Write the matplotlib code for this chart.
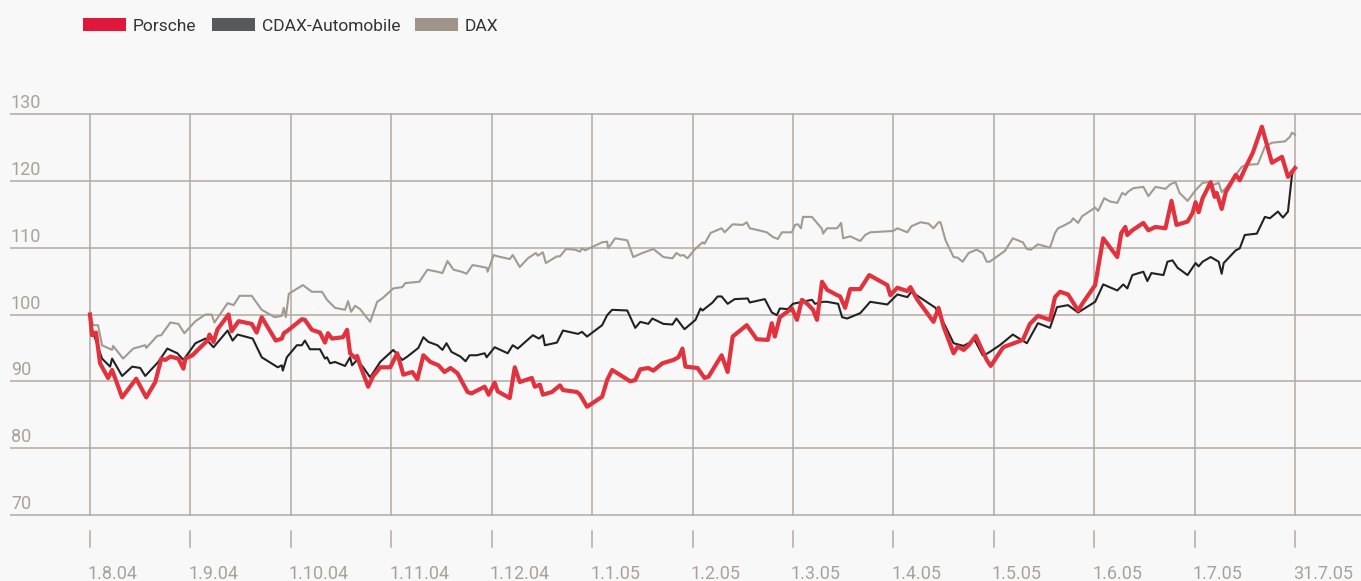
import matplotlib
matplotlib.use("Agg")
import matplotlib.pyplot as plt
from matplotlib.patches import Rectangle

# x = months since 1.8.04, y = index (1.8.04 = 100)
porsche_x = [0.00, 0.02, 0.06, 0.10, 0.18, 0.22, 0.32, 0.46, 0.56, 0.65, 0.71, 0.75, 0.80, 0.88, 0.93, 0.95,
             1.02, 1.10, 1.17, 1.19, 1.23, 1.27, 1.38, 1.41, 1.48, 1.61, 1.66, 1.71, 1.85, 1.91, 1.93, 1.97,
             2.11, 2.14, 2.21, 2.29, 2.34, 2.37, 2.41, 2.52, 2.56, 2.59, 2.64, 2.66, 2.69, 2.72, 2.77, 2.82,
             2.87, 2.89, 2.99, 3.06, 3.12, 3.21, 3.26, 3.32, 3.39, 3.47, 3.53, 3.59, 3.66, 3.76, 3.80, 3.93,
             3.97, 4.03, 4.06, 4.18, 4.23, 4.28, 4.40, 4.43, 4.48, 4.51, 4.60, 4.68, 4.71, 4.85, 4.88, 4.95,
             5.10, 5.15, 5.20, 5.38, 5.43, 5.48, 5.56, 5.61, 5.70, 5.81, 5.86, 5.90, 5.93, 6.05, 6.12, 6.16,
             6.29, 6.35, 6.40, 6.54, 6.64, 6.75, 6.79, 6.82, 6.87, 6.99, 7.04, 7.09, 7.15, 7.20, 7.24, 7.29,
             7.34, 7.44, 7.47, 7.52, 7.57, 7.67, 7.76, 7.94, 7.97, 8.04, 8.14, 8.17, 8.24, 8.40, 8.45, 8.50,
             8.60, 8.64, 8.70, 8.75, 8.82, 8.93, 8.97, 9.09, 9.11, 9.29, 9.36, 9.44, 9.56, 9.61, 9.66, 9.74,
             9.84, 9.89, 10.01, 10.09, 10.23, 10.27, 10.31, 10.33, 10.38, 10.49, 10.54, 10.61, 10.71, 10.77,
             10.82, 10.93, 10.98, 11.01, 11.04, 11.08, 11.16, 11.20, 11.22, 11.27, 11.31, 11.41, 11.45, 11.52,
             11.58, 11.67, 11.77, 11.87, 11.93, 12.00]
porsche_y = [100.0, 96.9, 97.3, 92.7, 90.5, 91.7, 87.6, 90.4, 87.6, 89.9, 93.4, 93.2, 93.7, 93.4, 91.9, 93.4,
             93.9, 95.1, 96.1, 97.0, 95.9, 97.8, 100.0, 97.5, 99.0, 98.6, 97.3, 99.6, 96.1, 96.4, 97.2, 97.6,
             99.3, 99.2, 97.7, 97.3, 95.8, 97.2, 96.4, 96.6, 97.7, 94.2, 93.5, 93.8, 92.4, 91.2, 89.2, 90.8,
             91.7, 92.1, 92.1, 94.2, 91.0, 91.4, 90.3, 93.9, 92.9, 92.4, 91.4, 92.0, 91.2, 88.4, 88.2, 89.2,
             88.0, 89.8, 88.5, 87.5, 92.1, 89.9, 90.5, 89.2, 89.5, 88.0, 88.4, 89.4, 88.7, 88.4, 88.0, 86.2,
             87.7, 90.2, 91.7, 90.0, 90.2, 91.8, 92.0, 91.6, 92.7, 93.2, 93.6, 94.9, 92.2, 92.0, 90.5, 90.7,
             93.9, 91.4, 96.7, 98.4, 96.3, 96.2, 98.7, 96.7, 99.6, 100.9, 99.2, 102.2, 101.5, 100.7, 99.2, 104.9,
             103.7, 102.9, 102.7, 101.0, 103.8, 103.8, 105.9, 104.4, 102.9, 104.0, 103.5, 104.1, 102.2, 98.9, 101.0, 98.2,
             94.2, 95.2, 94.7, 95.4, 96.8, 93.2, 92.3, 95.0, 95.2, 96.2, 98.6, 99.8, 99.2, 102.6, 103.4, 103.0,
             100.6, 101.8, 104.4, 111.4, 108.6, 112.2, 113.1, 111.9, 112.6, 113.7, 112.6, 113.1, 112.9, 117.0,
             113.4, 113.9, 115.2, 116.8, 115.3, 117.4, 119.8, 117.6, 118.2, 115.8, 118.3, 120.9, 120.1, 122.4,
             124.2, 128.1, 122.7, 123.6, 120.6, 121.9]

cdax_x = [0.00, 0.02, 0.12, 0.20, 0.22, 0.32, 0.42, 0.50, 0.55, 0.68, 0.77, 0.87, 0.93, 1.05, 1.15, 1.23,
          1.37, 1.42, 1.47, 1.62, 1.71, 1.87, 1.91, 1.92, 1.96, 2.06, 2.11, 2.14, 2.19, 2.29, 2.34, 2.36,
          2.39, 2.44, 2.54, 2.59, 2.61, 2.66, 2.72, 2.79, 2.89, 3.02, 3.11, 3.16, 3.27, 3.32, 3.37, 3.46,
          3.51, 3.55, 3.60, 3.69, 3.74, 3.78, 3.85, 3.93, 3.95, 4.03, 4.16, 4.21, 4.26, 4.41, 4.47, 4.51,
          4.53, 4.65, 4.71, 4.86, 4.90, 4.95, 5.10, 5.15, 5.20, 5.35, 5.43, 5.48, 5.56, 5.60, 5.71, 5.80,
          5.84, 5.92, 6.03, 6.08, 6.10, 6.20, 6.25, 6.29, 6.35, 6.42, 6.55, 6.57, 6.72, 6.79, 6.84, 6.87,
          6.95, 7.00, 7.19, 7.22, 7.30, 7.34, 7.45, 7.49, 7.54, 7.67, 7.77, 7.94, 8.04, 8.14, 8.18, 8.27,
          8.33, 8.42, 8.52, 8.60, 8.70, 8.81, 8.89, 8.94, 9.06, 9.19, 9.33, 9.44, 9.56, 9.63, 9.74, 9.84,
          10.01, 10.09, 10.23, 10.29, 10.33, 10.38, 10.49, 10.53, 10.57, 10.69, 10.73, 10.78, 10.83, 10.93,
          11.01, 11.04, 11.08, 11.16, 11.24, 11.27, 11.29, 11.41, 11.45, 11.50, 11.62, 11.70, 11.75, 11.83,
          11.88, 11.93, 11.97, 12.00]
cdax_y = [100.0, 97.8, 93.4, 92.2, 93.4, 90.8, 92.2, 92.0, 90.8, 92.9, 94.9, 94.2, 93.2, 95.7, 96.4, 95.1,
          97.6, 96.1, 97.0, 96.4, 93.6, 92.1, 92.4, 91.6, 93.6, 95.4, 95.4, 96.1, 94.8, 94.8, 93.4, 93.6,
          92.7, 92.9, 92.3, 93.6, 92.4, 93.2, 92.1, 90.6, 92.9, 94.7, 93.2, 93.7, 95.0, 96.6, 95.9, 95.4,
          94.7, 95.7, 94.4, 93.7, 93.0, 93.9, 93.9, 94.2, 93.6, 95.1, 94.2, 95.4, 94.9, 96.9, 96.4, 96.9,
          95.4, 95.8, 97.6, 97.1, 97.4, 96.7, 98.4, 99.9, 100.7, 100.6, 98.0, 98.9, 98.6, 99.4, 98.6, 98.5,
          99.4, 97.8, 99.2, 100.9, 100.6, 101.8, 102.7, 102.7, 101.6, 102.3, 102.4, 101.8, 102.3, 100.3, 99.9, 100.9,
          100.8, 101.6, 102.2, 101.6, 101.9, 101.9, 101.6, 99.6, 99.4, 100.2, 101.9, 101.5, 103.0, 102.6, 103.4, 102.5,
          101.9, 101.0, 98.2, 95.7, 95.3, 96.2, 93.9, 94.2, 95.4, 97.0, 95.7, 98.7, 98.0, 101.1, 101.4, 100.3,
          101.9, 104.5, 103.6, 104.5, 103.9, 105.9, 106.4, 105.0, 106.2, 105.9, 107.9, 108.1, 107.0, 105.9,
          107.7, 107.2, 107.9, 108.6, 107.9, 106.1, 107.7, 109.6, 109.9, 111.9, 112.1, 114.6, 114.4, 115.4,
          114.5, 115.4, 120.9, 122.1]

dax_x = [0.00, 0.03, 0.08, 0.12, 0.22, 0.23, 0.33, 0.43, 0.50, 0.55, 0.56, 0.67, 0.71, 0.80, 0.88, 0.94,
         1.05, 1.15, 1.21, 1.24, 1.37, 1.43, 1.49, 1.61, 1.71, 1.84, 1.91, 1.93, 1.95, 1.98, 2.12, 2.21,
         2.31, 2.36, 2.44, 2.54, 2.57, 2.60, 2.64, 2.69, 2.79, 2.86, 2.91, 3.02, 3.11, 3.14, 3.28, 3.36,
         3.46, 3.51, 3.56, 3.62, 3.70, 3.75, 3.81, 3.95, 3.96, 4.02, 4.06, 4.18, 4.21, 4.28, 4.36, 4.44,
         4.46, 4.51, 4.54, 4.65, 4.68, 4.74, 4.83, 4.88, 4.90, 4.93, 5.00, 5.10, 5.15, 5.16, 5.23, 5.35,
         5.41, 5.50, 5.61, 5.71, 5.80, 5.84, 5.88, 5.91, 5.95, 6.02, 6.10, 6.12, 6.18, 6.29, 6.32, 6.40,
         6.50, 6.54, 6.57, 6.66, 6.74, 6.80, 6.85, 6.89, 6.99, 7.02, 7.05, 7.08, 7.10, 7.19, 7.29, 7.30,
         7.34, 7.44, 7.48, 7.50, 7.57, 7.67, 7.72, 7.77, 8.00, 8.04, 8.14, 8.18, 8.27, 8.35, 8.40, 8.45,
         8.47, 8.52, 8.60, 8.64, 8.69, 8.75, 8.83, 8.89, 8.93, 8.96, 9.11, 9.19, 9.29, 9.33, 9.37, 9.44,
         9.56, 9.61, 9.64, 9.71, 9.77, 9.79, 9.84, 9.88, 9.94, 10.01, 10.04, 10.10, 10.16, 10.23, 10.28,
         10.31, 10.34, 10.39, 10.49, 10.54, 10.61, 10.71, 10.76, 10.81, 10.85, 10.93, 11.01, 11.08, 11.14,
         11.19, 11.24, 11.27, 11.31, 11.47, 11.52, 11.63, 11.70, 11.77, 11.90, 11.95, 11.97, 12.00]
dax_y = [100.0, 98.4, 98.4, 95.4, 94.7, 95.3, 93.4, 94.9, 95.2, 95.4, 95.0, 96.8, 96.9, 98.8, 98.6, 97.2,
         99.0, 100.0, 100.0, 98.8, 101.7, 101.4, 102.8, 102.8, 100.7, 99.6, 99.8, 101.0, 99.6, 103.1, 104.4, 103.4,
         103.4, 102.2, 101.0, 100.7, 102.0, 100.4, 101.3, 100.8, 98.9, 101.9, 102.4, 103.9, 104.1, 104.7, 104.9, 106.7,
         106.4, 106.2, 108.0, 106.7, 106.4, 106.1, 107.4, 107.0, 106.4, 108.9, 108.7, 108.3, 108.9, 107.1, 108.4, 109.2,
         108.8, 109.3, 107.7, 108.7, 108.7, 109.8, 109.7, 109.4, 109.9, 109.6, 110.1, 110.8, 110.9, 109.9, 111.4, 111.1,
         108.6, 109.2, 109.8, 108.6, 108.4, 109.2, 108.8, 108.9, 108.4, 109.7, 110.8, 110.6, 112.2, 112.9, 112.3, 113.5,
         113.4, 113.8, 112.9, 112.6, 112.3, 111.6, 111.3, 112.3, 112.3, 113.4, 113.5, 112.9, 114.6, 114.6, 112.8, 112.1,
         112.9, 112.9, 113.7, 111.4, 111.7, 111.0, 111.9, 112.3, 112.5, 112.9, 112.3, 113.2, 113.8, 113.6, 112.9, 113.8,
         113.8, 111.1, 108.6, 108.5, 107.9, 109.2, 109.7, 109.2, 107.9, 107.9, 109.5, 111.4, 110.8, 109.8, 109.7, 110.5,
         110.0, 112.2, 112.9, 113.4, 113.9, 114.4, 113.7, 114.7, 115.3, 116.0, 115.5, 117.4, 116.9, 116.7, 118.2,
         117.9, 118.4, 118.9, 119.1, 117.7, 119.1, 118.8, 119.5, 119.8, 118.2, 117.0, 118.6, 119.7, 119.8,
         119.4, 119.7, 118.3, 118.9, 122.1, 122.4, 122.5, 125.1, 125.7, 125.9, 126.6, 127.2, 126.9]

y_ticks = [70, 80, 90, 100, 110, 120, 130]
month_labels = ["1.8.04", "1.9.04", "1.10.04", "1.11.04", "1.12.04", "1.1.05", "1.2.05",
                "1.3.05", "1.4.05", "1.5.05", "1.6.05", "1.7.05", "31.7.05"]
series_names = ["Porsche", "CDAX-Automobile", "DAX"]

RED = "#e2323e"
DARK = "#222222"
TAUPE = "#a39a90"
GRID = "#b3aba2"
LABEL = "#aaa298"
BG = "#f8f8f8"

plt.rcParams["font.family"] = ["Liberation Sans Narrow", "Roboto", "DejaVu Sans"]

W, H = 1361, 581
fig = plt.figure(figsize=(W / 100, H / 100), dpi=100, facecolor=BG)
ax = fig.add_axes([0, 0, 1, 1])
ax.set_facecolor(BG)
ax.axis("off")

# pixel layout: month 0 at x=90, month 12 at x=1295; 130 at y=114, 70 at y=515
px_per_month = (1295 - 90) / 12
px_per_unit = (515 - 114) / 60
ax.set_xlim(-90 / px_per_month, (W - 90) / px_per_month)
ax.set_ylim(130 - (H - 114) / px_per_unit, 130 + 114 / px_per_unit)

def px_x(px):
    return (px - 90) / px_per_month

def px_y(py):
    return 130 - (py - 114) / px_per_unit

# gridlines
for v in y_ticks:
    ax.plot([px_x(10), px_x(W)], [v, v], color=GRID, lw=1.1, zorder=1, solid_capstyle="butt")
    ax.text(px_x(11), v + 6 / px_per_unit, str(v), color=LABEL, fontsize=13,
            ha="left", va="baseline")
for i, lab in enumerate(month_labels):
    ax.plot([i, i], [70, 130], color=GRID, lw=1.1, zorder=1)
    ax.plot([i, i], [px_y(531), px_y(547)], color=GRID, lw=1.1, zorder=1)
    ax.text(i - 2 / px_per_month, px_y(579), lab, color=LABEL, fontsize=13,
            ha="left", va="baseline")

ax.plot(dax_x, dax_y, color=TAUPE, lw=1.5, zorder=3)
ax.plot(cdax_x, cdax_y, color=DARK, lw=1.5, zorder=4)
ax.plot(porsche_x, porsche_y, color=RED, lw=3.0, zorder=5)

# legend
legend_colors = ["#e0173a", "#58595b", "#a0948a"]
legend_x = [83, 212, 415]
for name, col, lx in zip(series_names, legend_colors, legend_x):
    fig.patches.append(Rectangle((lx / W, 1 - 31 / H), 43 / W, 13 / H,
                                 transform=fig.transFigure, facecolor=col, edgecolor="none"))
    fig.text((lx + 50) / W, 1 - 31 / H, name, color="#333333", fontsize=12.5,
             ha="left", va="baseline")

fig.savefig("out.png", dpi=100, facecolor=BG)
